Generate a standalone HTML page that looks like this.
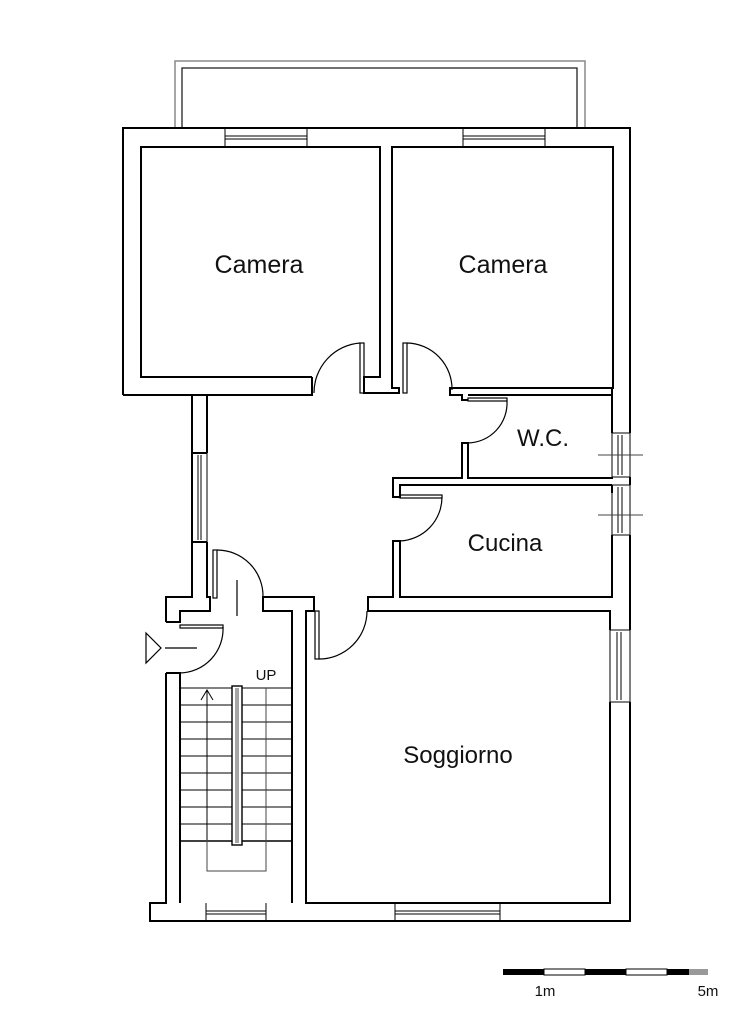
<!DOCTYPE html>
<html><head><meta charset="utf-8"><style>
html,body{margin:0;padding:0;background:#fff;}
svg{display:block}
text{font-family:"Liberation Sans",Arial,sans-serif;fill:#111}
</style></head><body>
<svg width="750" height="1024" viewBox="0 0 750 1024" xmlns="http://www.w3.org/2000/svg">
<rect width="750" height="1024" fill="#fff"/>
<!-- balcony -->
<rect x="175" y="61" width="410" height="67" fill="none" stroke="#888" stroke-width="1.5"/>
<rect x="182" y="68" width="395" height="60" fill="none" stroke="#111" stroke-width="1.2"/>
<g fill="none" stroke="#000" stroke-width="2" stroke-linejoin="miter">
<!-- outer -->
<path d="M123 395 V128 H630 V433 M630 477 V485 M630 535 V630 M630 702 V921 H150 V903 H166 V673 M166 622 V597 H192 V395 H123"/>
<!-- camera 1 -->
<path d="M312 377 H141 V147 H380 V377 H364 V393 H399 V388 H392 V147 H613 V388 H450 V395 H462 V400 H468"/>
<path d="M192 395 H312 V377"/>
<!-- WC -->
<path d="M612 395 H468 M612 395 V433 M612 477 V478 H468 V443 H462 V478 H393 V497 H400 V485 H612 V485 M612 485 V493 M612 535 V597 H400 V541 H393 V597 H368 V611 H610 V630 M610 702 V903 H306 V611 H314 V597 H263 V611 H292 V903 M612 388 V395"/>
<!-- corridor left -->
<path d="M207 395 V453 M207 542 V597 H210 V611 H180 V622 H166 M166 673 H180 V903"/>
<path d="M192 453 H207 M192 542 H207"/>
</g>
<!-- windows -->
<g fill="none" stroke="#000" stroke-width="1">
<path d="M630 433 V477 M630 485 V535 M630 630 V702"/>
<!-- top windows -->
<path d="M225 128 V147 M307 128 V147 M225 136 H307 M225 139 H307 M463 128 V147 M545 128 V147 M463 136 H545 M463 139 H545"/>
<!-- left corridor window -->
<path d="M192 453 V542 M207 453 V542 M198 455 V540 M201 455 V540"/>
<!-- right windows -->
<path d="M612 433 H630 M612 477 H630 M618 435 V475 M622 435 V475 M612 433 V477"/>
<path d="M612 485 H630 M612 535 H630 M618 487 V533 M622 487 V533 M612 485 V535"/>
<path d="M610 630 H630 M610 702 H630 M617 632 V700 M621 632 V700 M610 630 V702"/>
<path d="M598 455 H643 M598 515 H643" stroke="#444"/>
<!-- bottom windows -->
<path d="M206 903 V921 M266 903 V921 M206 911 H266 M206 914 H266 M395 903 V921 M500 903 V921 M395 911 H500 M395 914 H500"/>
</g>
<!-- doors -->
<g fill="none" stroke="#000" stroke-width="1.2">
<rect x="360" y="343" width="4" height="50"/>
<path d="M360 343 A50 50 0 0 0 314 393"/>
<rect x="403" y="343" width="4" height="50"/>
<path d="M407 343 A46 46 0 0 1 452 390"/>
<rect x="468" y="398" width="39" height="3"/>
<path d="M507 401 A40 40 0 0 1 468 443"/>
<rect x="400" y="495" width="42" height="3"/>
<path d="M442 497 A44 44 0 0 1 400 541"/>
<rect x="213" y="550" width="4" height="48"/>
<path d="M217 550 A46 46 0 0 1 263 597"/>
<rect x="315" y="611" width="4" height="48"/>
<path d="M319 659 A48 48 0 0 0 367 611"/>
<rect x="180" y="625" width="43" height="3"/>
<path d="M223 627 A44 44 0 0 1 180 673"/>
<path d="M237 580 V616"/>
<!-- entry arrow -->
<path d="M146 633 L161 648 L146 663 Z M165 648 H197"/>
</g>
<!-- stairs -->
<g fill="none" stroke="#000" stroke-width="1">
<path d="M180 688 H292 M180 705 H292 M180 722 H292 M180 739 H292 M180 756 H292 M180 773 H292 M180 790 H292 M180 807 H292 M180 824 H292"/>
<path d="M180 841 H292" stroke-width="1.6"/>
<path d="M207 840 V690 M201 700 L207 690 L213 700"/>
<path d="M266 688 V871 H207 V840" stroke="#444"/>
<rect x="232" y="686" width="10" height="159" fill="#fff" stroke-width="1.4"/>
<path d="M236 688 V843 M238 688 V843" stroke-width="0.7"/>
</g>
<!-- scale bar -->
<rect x="503" y="969" width="41" height="6" fill="#000"/>
<rect x="544" y="969" width="41" height="6" fill="#fff" stroke="#000" stroke-width="1"/>
<rect x="585" y="969" width="41" height="6" fill="#000"/>
<rect x="626" y="969" width="41" height="6" fill="#fff" stroke="#000" stroke-width="1"/>
<rect x="667" y="969" width="22" height="6" fill="#000"/>
<rect x="689" y="969" width="19" height="6" fill="#999"/>
<!-- labels -->
<text x="259" y="273" font-size="25" text-anchor="middle">Camera</text>
<text x="503" y="273" font-size="25" text-anchor="middle">Camera</text>
<text x="543" y="446" font-size="24" text-anchor="middle">W.C.</text>
<text x="505" y="551" font-size="24" text-anchor="middle">Cucina</text>
<text x="458" y="763" font-size="24" text-anchor="middle">Soggiorno</text>
<text x="266" y="680" font-size="15" text-anchor="middle">UP</text>
<text x="545" y="996" font-size="15" text-anchor="middle">1m</text>
<text x="708" y="996" font-size="15" text-anchor="middle">5m</text>
</svg>
</body></html>
